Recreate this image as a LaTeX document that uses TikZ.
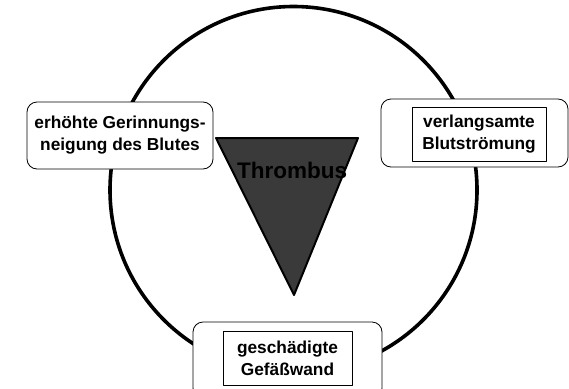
\documentclass[tikz,border=0pt]{standalone}
\usepackage{fontspec}
\setmainfont{Liberation Sans}
\definecolor{thrombfill}{RGB}{58,58,58}
\begin{document}
\begin{tikzpicture}[x=1pt,y=-1pt,line join=round,
  rbox/.style={draw=black,line width=0.8pt,rounded corners=10pt,fill=white,inner sep=0pt},
  ibox/.style={draw=black,line width=0.8pt,fill=white,inner sep=0pt},
  lbl/.style={font=\fontsize{17.3}{22}\selectfont\bfseries,align=center,inner sep=0pt}]
\useasboundingbox (0,0) rectangle (569,388);
% ring
\node[circle,draw=black,line width=3.6pt,minimum size=367pt,inner sep=0pt] (ring) at (293.5,190) {};
% triangle
\coordinate (tl) at (216,138);
\coordinate (tr) at (358,138);
\coordinate (tb) at (294,295);
\draw[fill=thrombfill,line width=2pt] (tl) -- (tr) -- (tb) -- cycle;
\node[font=\fontsize{22.5}{26}\selectfont\bfseries,inner sep=0pt,anchor=base] (thr) at (292,178) {Thrombus};
% left box
\node[rbox,minimum width=186pt,minimum height=67pt] (lb) at (120,135.5) {};
\node[lbl] (lbt) at (lb.center) {erhöhte Gerinnungs-\\neigung des Blutes};
% right box
\node[rbox,minimum width=187pt,minimum height=68pt] (rb) at (474.5,133) {};
\node[ibox,minimum width=134pt,minimum height=54pt] (rbi) at (479,134) {};
\node[lbl] (rbt) at (rbi.center) {verlangsamte\\Blutströmung};
% bottom box
\node[rbox,minimum width=189pt,minimum height=76pt] (bb) at (287.5,360) {};
\node[ibox,minimum width=129pt,minimum height=54pt] (bbi) at (287.5,358) {};
\node[lbl] (bbt) at (bbi.center) {geschädigte\\Gefäßwand};
\end{tikzpicture}
\end{document}
